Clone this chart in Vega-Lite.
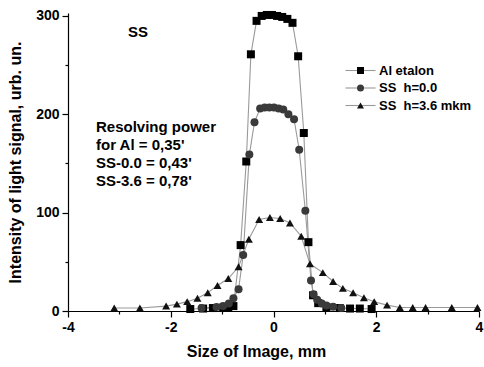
{
  "$schema": "https://vega.github.io/schema/vega-lite/v6.json",
  "autosize": {"type": "none"},
  "padding": {"left": 68, "top": 13, "right": 5, "bottom": 56},
  "width": 411,
  "height": 298,
  "background": "white",
  "config": {
    "view": {"stroke": null},
    "font": "Liberation Sans",
    "axis": {
      "grid": false,
      "domainColor": "#000",
      "domainWidth": 1.2,
      "tickColor": "#000",
      "tickWidth": 1.2,
      "labelFont": "Liberation Sans",
      "labelFontWeight": "bold",
      "labelFontSize": 14,
      "labelColor": "#000",
      "titleFont": "Liberation Sans",
      "titleFontWeight": "bold",
      "titleFontSize": 16,
      "titleColor": "#000"
    }
  },
  "datasets": {
    "pts": [
      {"series": "Al etalon", "x": -1.62, "y": 2},
      {"series": "Al etalon", "x": -1.37, "y": 2.5},
      {"series": "Al etalon", "x": -1.18, "y": 3},
      {"series": "Al etalon", "x": -0.98, "y": 3.5},
      {"series": "Al etalon", "x": -0.88, "y": 4},
      {"series": "Al etalon", "x": -0.78, "y": 5},
      {"series": "Al etalon", "x": -0.64, "y": 67},
      {"series": "Al etalon", "x": -0.53, "y": 152},
      {"series": "Al etalon", "x": -0.44, "y": 261},
      {"series": "Al etalon", "x": -0.33, "y": 295},
      {"series": "Al etalon", "x": -0.23, "y": 300},
      {"series": "Al etalon", "x": -0.13, "y": 301},
      {"series": "Al etalon", "x": -0.03, "y": 301},
      {"series": "Al etalon", "x": 0.07, "y": 300},
      {"series": "Al etalon", "x": 0.17, "y": 299},
      {"series": "Al etalon", "x": 0.27, "y": 297},
      {"series": "Al etalon", "x": 0.37, "y": 293},
      {"series": "Al etalon", "x": 0.48, "y": 259},
      {"series": "Al etalon", "x": 0.59, "y": 181},
      {"series": "Al etalon", "x": 0.68, "y": 70},
      {"series": "Al etalon", "x": 0.77, "y": 16},
      {"series": "Al etalon", "x": 0.87, "y": 8},
      {"series": "Al etalon", "x": 1.03, "y": 4},
      {"series": "Al etalon", "x": 1.29, "y": 3},
      {"series": "Al etalon", "x": 1.49, "y": 2.5},
      {"series": "Al etalon", "x": 1.68, "y": 2.5},
      {"series": "Al etalon", "x": 1.91, "y": 2},

      {"series": "SS\u00a0 h=0.0", "x": -1.4, "y": 3},
      {"series": "SS\u00a0 h=0.0", "x": -1.11, "y": 4},
      {"series": "SS\u00a0 h=0.0", "x": -0.98, "y": 5},
      {"series": "SS\u00a0 h=0.0", "x": -0.87, "y": 7.5},
      {"series": "SS\u00a0 h=0.0", "x": -0.78, "y": 13},
      {"series": "SS\u00a0 h=0.0", "x": -0.68, "y": 22},
      {"series": "SS\u00a0 h=0.0", "x": -0.59, "y": 57},
      {"series": "SS\u00a0 h=0.0", "x": -0.47, "y": 159},
      {"series": "SS\u00a0 h=0.0", "x": -0.37, "y": 192},
      {"series": "SS\u00a0 h=0.0", "x": -0.26, "y": 206},
      {"series": "SS\u00a0 h=0.0", "x": -0.17, "y": 207},
      {"series": "SS\u00a0 h=0.0", "x": -0.08, "y": 207},
      {"series": "SS\u00a0 h=0.0", "x": 0.01, "y": 207},
      {"series": "SS\u00a0 h=0.0", "x": 0.1, "y": 206},
      {"series": "SS\u00a0 h=0.0", "x": 0.19, "y": 205},
      {"series": "SS\u00a0 h=0.0", "x": 0.29, "y": 200},
      {"series": "SS\u00a0 h=0.0", "x": 0.4, "y": 195},
      {"series": "SS\u00a0 h=0.0", "x": 0.5, "y": 164},
      {"series": "SS\u00a0 h=0.0", "x": 0.62, "y": 102},
      {"series": "SS\u00a0 h=0.0", "x": 0.73, "y": 31},
      {"series": "SS\u00a0 h=0.0", "x": 0.78, "y": 17},
      {"series": "SS\u00a0 h=0.0", "x": 0.85, "y": 11.5},
      {"series": "SS\u00a0 h=0.0", "x": 0.94, "y": 7.5},
      {"series": "SS\u00a0 h=0.0", "x": 1.03, "y": 5.5},
      {"series": "SS\u00a0 h=0.0", "x": 1.16, "y": 4.3},
      {"series": "SS\u00a0 h=0.0", "x": 1.32, "y": 3},

      {"series": "SS\u00a0 h=3.6 mkm", "x": -3.1, "y": 3},
      {"series": "SS\u00a0 h=3.6 mkm", "x": -2.6, "y": 3},
      {"series": "SS\u00a0 h=3.6 mkm", "x": -2.09, "y": 5},
      {"series": "SS\u00a0 h=3.6 mkm", "x": -1.88, "y": 7},
      {"series": "SS\u00a0 h=3.6 mkm", "x": -1.68, "y": 9.5},
      {"series": "SS\u00a0 h=3.6 mkm", "x": -1.48, "y": 13},
      {"series": "SS\u00a0 h=3.6 mkm", "x": -1.28, "y": 18.5},
      {"series": "SS\u00a0 h=3.6 mkm", "x": -1.09, "y": 26},
      {"series": "SS\u00a0 h=3.6 mkm", "x": -0.88, "y": 33},
      {"series": "SS\u00a0 h=3.6 mkm", "x": -0.68, "y": 45},
      {"series": "SS\u00a0 h=3.6 mkm", "x": -0.48, "y": 73},
      {"series": "SS\u00a0 h=3.6 mkm", "x": -0.28, "y": 93},
      {"series": "SS\u00a0 h=3.6 mkm", "x": -0.07, "y": 95},
      {"series": "SS\u00a0 h=3.6 mkm", "x": 0.13, "y": 94},
      {"series": "SS\u00a0 h=3.6 mkm", "x": 0.32, "y": 89.5},
      {"series": "SS\u00a0 h=3.6 mkm", "x": 0.54, "y": 76},
      {"series": "SS\u00a0 h=3.6 mkm", "x": 0.71, "y": 48},
      {"series": "SS\u00a0 h=3.6 mkm", "x": 0.96, "y": 39},
      {"series": "SS\u00a0 h=3.6 mkm", "x": 1.16, "y": 30},
      {"series": "SS\u00a0 h=3.6 mkm", "x": 1.35, "y": 23},
      {"series": "SS\u00a0 h=3.6 mkm", "x": 1.55, "y": 18.5},
      {"series": "SS\u00a0 h=3.6 mkm", "x": 1.76, "y": 13.5},
      {"series": "SS\u00a0 h=3.6 mkm", "x": 1.96, "y": 9.5},
      {"series": "SS\u00a0 h=3.6 mkm", "x": 2.21, "y": 6},
      {"series": "SS\u00a0 h=3.6 mkm", "x": 2.46, "y": 3.5},
      {"series": "SS\u00a0 h=3.6 mkm", "x": 2.71, "y": 3.5},
      {"series": "SS\u00a0 h=3.6 mkm", "x": 2.96, "y": 3.5},
      {"series": "SS\u00a0 h=3.6 mkm", "x": 3.47, "y": 3.5},
      {"series": "SS\u00a0 h=3.6 mkm", "x": 3.97, "y": 3.5}
    ]
  },
  "layer": [
    {
      "data": {"name": "pts"},
      "mark": {"type": "line", "strokeWidth": 1.1},
      "encoding": {
        "x": {
          "field": "x",
          "type": "quantitative",
          "scale": {"domain": [-4, 4], "nice": false, "zero": false},
          "axis": {
            "title": "Size of Image, mm",
            "titleX": 188,
            "titleAnchor": "middle",
            "values": [-4, -3, -2, -1, 0, 1, 2, 3, 4],
            "labelExpr": "datum.value % 2 === 0 ? '' + datum.value : ''",
            "tickSize": {"condition": {"test": "datum.value % 2 === 0", "value": 6}, "value": 3},
            "labelPadding": 3,
            "titlePadding": 9,
            "labelFlush": false
          }
        },
        "y": {
          "field": "y",
          "type": "quantitative",
          "scale": {"domain": [0, 303], "nice": false},
          "axis": {
            "title": "Intensity of light signal, urb. un.",
            "values": [0, 50, 100, 150, 200, 250, 300],
            "labelExpr": "datum.value % 100 === 0 ? '' + datum.value : ''",
            "tickSize": {"condition": {"test": "datum.value % 100 === 0", "value": 6}, "value": 3},
            "labelPadding": 3,
            "titlePadding": 12
          }
        },
        "stroke": {
          "field": "series",
          "type": "nominal",
          "scale": {"domain": ["SS\u00a0 h=3.6 mkm", "SS\u00a0 h=0.0", "Al etalon"], "range": ["#9a9a9a", "#9a9a9a", "#9a9a9a"]},
          "legend": {
            "orient": "none",
            "legendX": 286,
            "legendY": 51,
            "title": null,
            "symbolType": "M-4.3,0H4.3",
            "symbolSize": 49,
            "symbolStrokeWidth": 1.1,
            "labelExpr": "'\u00a0'",
            "labelFontSize": 13,
            "labelOffset": 12,
            "rowPadding": 3.5
          }
        },
        "order": {"field": "x", "type": "quantitative"}
      }
    },
    {
      "data": {"name": "pts"},
      "mark": {"type": "point", "filled": true, "opacity": 1, "size": 64},
      "encoding": {
        "x": {"field": "x", "type": "quantitative"},
        "y": {"field": "y", "type": "quantitative"},
        "shape": {
          "field": "series",
          "type": "nominal",
          "scale": {"domain": ["Al etalon", "SS\u00a0 h=0.0", "SS\u00a0 h=3.6 mkm"], "range": ["square", "circle", "triangle-up"]},
          "legend": null
        },
        "color": {
          "field": "series",
          "type": "nominal",
          "scale": {"domain": ["Al etalon", "SS\u00a0 h=0.0", "SS\u00a0 h=3.6 mkm"], "range": ["#000000", "#3a3a3a", "#111111"]},
          "legend": {
            "orient": "none",
            "legendX": 286,
            "legendY": 51,
            "title": null,
            "labelFont": "Liberation Sans",
            "labelFontWeight": "bold",
            "labelFontSize": 13,
            "labelColor": "#000",
            "symbolSize": 49,
            "labelOffset": 12,
            "rowPadding": 3.5
          }
        }
      }
    },
    {
      "data": {"values": [{"t": "a"}]},
      "mark": {"type": "text", "align": "left", "baseline": "alphabetic", "font": "Liberation Sans", "fontWeight": "bold", "fontSize": 15, "lineHeight": 18, "fill": "#000"},
      "encoding": {
        "x": {"datum": -3.455, "type": "quantitative"},
        "y": {"datum": 182, "type": "quantitative"},
        "text": {"value": ["Resolving power", "for Al = 0,35'", "SS-0.0 = 0,43'", "SS-3.6 = 0,78'"]}
      }
    },
    {
      "data": {"values": [{"t": "b"}]},
      "mark": {"type": "text", "align": "left", "baseline": "alphabetic", "font": "Liberation Sans", "fontWeight": "bold", "fontSize": 15, "fill": "#000"},
      "encoding": {
        "x": {"datum": -2.83, "type": "quantitative"},
        "y": {"datum": 278.7, "type": "quantitative"},
        "text": {"value": "SS"}
      }
    }
  ]
}
